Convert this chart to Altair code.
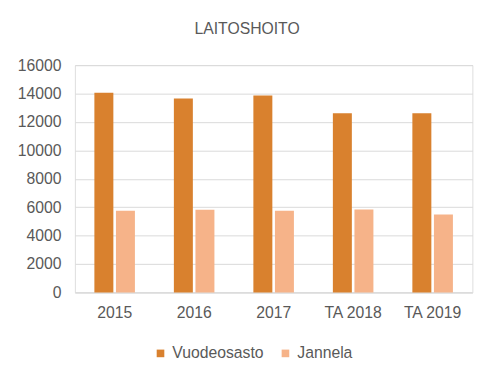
import altair as alt
import pandas as pd

categories = ["2015", "2016", "2017", "TA 2018", "TA 2019"]
vuodeosasto = [14060, 13650, 13870, 12610, 12610]
jannela = [5750, 5820, 5750, 5840, 5490]
series = ["Vuodeosasto", "Jannela"]
colors = ["#D9812E", "#F6B389"]

rows = []
for c, v, j in zip(categories, vuodeosasto, jannela):
    rows.append({"cat": c, "series": series[0], "value": v})
    rows.append({"cat": c, "series": series[1], "value": j})
df = pd.DataFrame(rows)

font = "Liberation Sans"
gray = "#595959"

chart = alt.Chart(df).mark_bar().encode(
    x=alt.X("cat:N", sort=categories, title=None,
            scale=alt.Scale(paddingInner=0.49, paddingOuter=0.245),
            axis=alt.Axis(labelAngle=0, labelFontSize=16, labelColor=gray, labelFont=font,
                          ticks=False, domainColor="#D9D9D9", labelPadding=13)),
    xOffset=alt.XOffset("series:N", sort=series, scale=alt.Scale(paddingInner=0.12)),
    y=alt.Y("value:Q", title=None,
            scale=alt.Scale(domain=[0, 16000]),
            axis=alt.Axis(values=list(range(0, 16001, 2000)), format="d", labelFontSize=16,
                          labelColor=gray, labelFont=font, ticks=False, domain=False,
                          gridColor="#D9D9D9", labelPadding=14)),
    color=alt.Color("series:N", sort=series,
                    scale=alt.Scale(domain=series, range=colors),
                    legend=alt.Legend(title=None, orient="none", direction="horizontal",
                                      legendX=79, legendY=285, symbolType="square",
                                      symbolSize=60, labelFontSize=16, labelColor=gray,
                                      labelFont=font, columnPadding=14, symbolStrokeWidth=0)),
).properties(
    width=404, height=231,
    title=alt.TitleParams("LAITOSHOITO", fontSize=16, font=font, color=gray,
                          fontWeight="normal", offset=21, dx=-27),
    autosize="none",
    padding={"left": 68, "top": 55, "right": 24, "bottom": 88},
).configure_view(stroke=None).configure(background="white")

chart.save("out.html", embed_options={"renderer": "svg", "actions": False})
